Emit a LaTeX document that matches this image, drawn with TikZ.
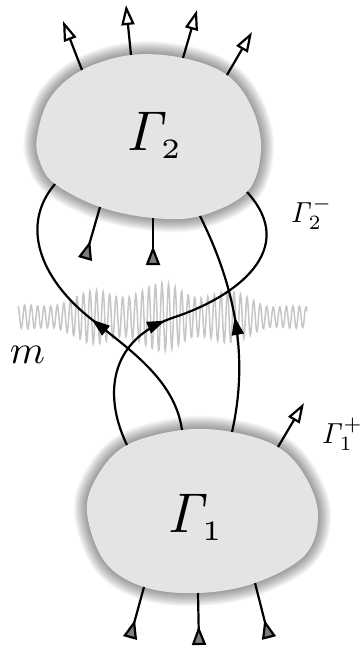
\documentclass[tikz,border=0pt]{standalone}
\usepackage{tikz}
\usetikzlibrary{arrows.meta,decorations.markings}
\definecolor{blobfill}{RGB}{228,228,228}
\definecolor{wavegray}{RGB}{198,198,198}
\definecolor{tipgray}{RGB}{125,125,125}
\newcommand{\Gam}{\mathit{\Gamma}}
\newcommand{\blobtwo}{plot[smooth cycle, tension=0.6] coordinates {(g2w) (g2a) (g2t1) (g2t2) (g2t3) (g2t4) (g2b) (g2e) (g2b5) (g2b4) (g2b3) (g2b2) (g2b1) (g2c)}}
\newcommand{\blobone}{plot[smooth cycle, tension=0.6] coordinates {(g1w) (g1a) (g1t1) (g1t2) (g1t3) (g1t4) (g1b) (g1e) (g1c) (g1d3) (g1d2) (g1d1) (g1d)}}

\begin{document}
\begin{tikzpicture}[x=1pt, y=-1pt, halo/.style={draw=black, opacity=0.035, line width=#1, line join=round}, blob/.style={fill=blobfill, draw=none}, outgoing/.style={-{Triangle[open, fill=white, length=20pt, width=13pt]}, line width=2.2pt}, incoming/.style={-{Triangle[reversed, fill=tipgray, length=19pt, width=14pt]}, line width=2.2pt}, flow/.style={line width=2.2pt, decoration={markings, mark=at position #1 with {\arrow{Triangle[length=18pt, width=12pt]}}}, postaction={decorate}}, biglabel/.style={inner sep=0pt, anchor=base west, scale=5.6}, smalllabel/.style={inner sep=0pt, anchor=base west, scale=2.9}]
\useasboundingbox (0,0) rectangle (361,648);
% blob 2
\coordinate (g2w) at (37,137);
\coordinate (g2a) at (50,98);
\coordinate (g2t1) at (82,70);
\coordinate (g2t2) at (131,55);
\coordinate (g2t3) at (183,58);
\coordinate (g2t4) at (227,75);
\coordinate (g2b) at (252,108);
\coordinate (g2e) at (261,150);
\coordinate (g2b5) at (247,192);
\coordinate (g2b4) at (200,216);
\coordinate (g2b3) at (153,218);
\coordinate (g2b2) at (100,207);
\coordinate (g2b1) at (55,184);
\coordinate (g2c) at (40,162);
% blob 1
\coordinate (g1w) at (87,512);
\coordinate (g1a) at (98,475);
\coordinate (g1t1) at (127,445);
\coordinate (g1t2) at (182,430);
\coordinate (g1t3) at (232,432);
\coordinate (g1t4) at (278,447);
\coordinate (g1b) at (305,476);
\coordinate (g1e) at (318,515);
\coordinate (g1c) at (305,555);
\coordinate (g1d3) at (255,583);
\coordinate (g1d2) at (198,593);
\coordinate (g1d1) at (144,587);
\coordinate (g1d) at (105,562);
% free ends
\coordinate (o1) at (63,21);
\coordinate (o2) at (126,5);
\coordinate (o3) at (197,10);
\coordinate (o4) at (252,32);
\coordinate (o5) at (304,403);
\coordinate (i1) at (85,259);
\coordinate (i2) at (153,265);
\coordinate (i3) at (130,638);
\coordinate (i4) at (199,645);
\coordinate (i5) at (269,638);

\draw[wavegray, line width=1.5pt] plot[domain=18:307, samples=700] (\x, {317 + (36*exp(-1*pow((\x-160)/140,2))*(0.82+0.18*sin(5*\x)) - 2)*sin(55*mod(\x,6.5454))});

\foreach \w in {2,4,...,26} {
  \draw[halo=\w pt] \blobtwo;
  \draw[halo=\w pt] \blobone;
}
\path[blob] \blobtwo;
\path[blob] \blobone;

\draw[flow=0.48] (g1t2) .. controls (175,380) and (130,350) .. (90,318) .. controls (40,278) and (20,225) .. (g2b1);
\draw[flow=0.44] (g1t1) .. controls (105,400) and (105,340) .. (175,317) .. controls (235,297) and (300,250) .. (g2b5);
\draw[flow=0.52] (g1t3) .. controls (246,370) and (242,300) .. (g2b4);

\draw[outgoing] (g2t1) -- (o1);
\draw[outgoing] (g2t2) -- (o2);
\draw[outgoing] (g2t3) -- (o3);
\draw[outgoing] (g2t4) -- (o4);
\draw[outgoing] (g1t4) -- (o5);
\draw[incoming] (g2b2) -- (i1);
\draw[incoming] (g2b3) -- (i2);
\draw[incoming] (g1d1) -- (i3);
\draw[incoming] (g1d2) -- (i4);
\draw[incoming] (g1d3) -- (i5);

\node[biglabel] (gtwo) at (125,150) {$\Gam_{\scriptscriptstyle 2}$};
\node[biglabel] (gone) at (166,532) {$\Gam_{\scriptscriptstyle 1}$};
\node[smalllabel] (gtwominus) at (290,222) {$\Gam_2^-$};
\node[smalllabel] (goneplus) at (321,443) {$\Gam_1^+$};
\node[inner sep=0pt, anchor=base west, scale=4] (mass) at (9,363) {$m$};
\end{tikzpicture}
\end{document}
